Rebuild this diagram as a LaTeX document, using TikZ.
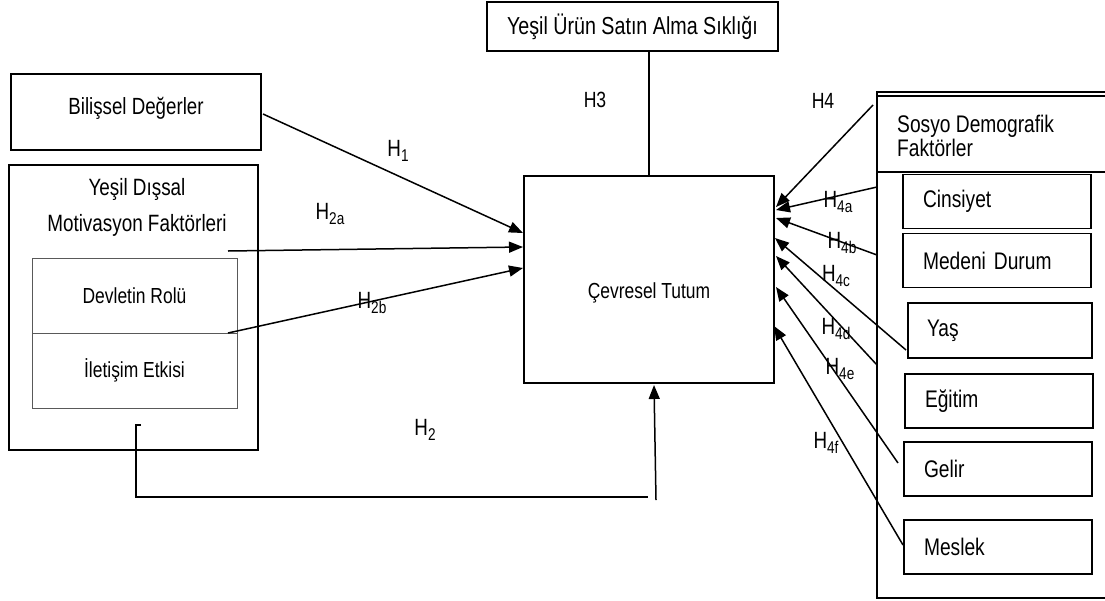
\documentclass[tikz,border=0pt]{standalone}
\usepackage{fontspec}
\setmainfont{Liberation Sans}[FakeStretch=0.8]
\usetikzlibrary{arrows.meta,calc}
\newcommand\hsub[2]{#1\raisebox{-0.4ex}{\fontsize{17}{17}\selectfont #2}}
\tikzset{
  thickbox/.style={draw, line width=2.4pt, inner sep=0pt},
  topbox/.style={draw, line width=1.5pt, inner sep=0pt},
  thinbox/.style={draw=black!65, line width=0.9pt, inner sep=0pt, minimum width=205pt, minimum height=75pt},
  rbox/.style={draw, line width=1.3pt, minimum height=54pt, align=left, inner xsep=20pt, inner ysep=0pt},
  arr/.style={line width=1.5pt, -{Triangle[length=14pt,width=11pt]}},
  plain/.style={line width=1.5pt},
  lbl/.style={font=\fontsize{23.5}{24}\selectfont, inner sep=0pt},
  lblb/.style={font=\fontsize{22}{24}\selectfont, inner sep=0pt},
  big/.style={font=\fontsize{24}{23}\selectfont},
  bil/.style={font=\fontsize{23.4}{23}\selectfont},
  mot/.style={font=\fontsize{23.6}{36}\selectfont},
  mid/.style={font=\fontsize{21.8}{21}\selectfont},
}
\begin{document}
\begin{tikzpicture}[x=1pt,y=-1pt]
\useasboundingbox (0,0) rectangle (1105,600);
\clip (0,0) rectangle (1105,600);
\fill[white] (0,0) rectangle (1105,600);

% top box
\node[topbox, minimum width=291pt, minimum height=49pt, font=\fontsize{24.6}{24}\selectfont] (top) at (632.5,26.5) {Ye\c{s}il Ürün Sat\i n Alma S\i kl\i \u{g}\i};

% central box
\node[thickbox, minimum width=250pt, minimum height=207pt] (cev) at (649,279.5) {};
\node[mid] (cevtxt) at (649,293) {Çevresel Tutum};

% Bilişsel
\node[thickbox, minimum width=250pt, minimum height=76pt, bil] (bil) at (136,112) {Bili\c{s}sel De\u{g}erler\rule[-12pt]{0pt}{0pt}};

% Yeşil Dışsal big box
\node[thickbox, minimum width=249pt, minimum height=285pt] (yes) at (133.5,307.5) {};
\node[mot, align=center] (yestxt) at (137,207) {Ye\c{s}il D\i\c{s}sal\\Motivasyon Faktörleri};
\node[thinbox, mid] (dev) at (134.5,295.5) {\raisebox{-8pt}{Devletin Rolü}};
\node[thinbox, mid] (ilt) at (134.5,370.5) {\raisebox{-8pt}{\.Ileti\c{s}im Etkisi}};

% right frame
\coordinate (fTL) at (877,92);
\coordinate (fBL) at (877,598);
\draw[line width=1.1pt] (1110,92) -- (fTL) -- (fBL) -- (1110,598);
\draw[line width=1.1pt] (877,96) -- (1110,96);
\draw[line width=1.1pt] (877,172) -- (1110,172);
\node[font=\fontsize{24}{24}\selectfont, align=left, anchor=west, inner sep=0pt] (sdf) at (897,136) {Sosyo Demografik\\Faktörler};

\node[rbox, minimum width=188pt, text width=148pt, big] (cin) at (997,201.5) {Cinsiyet};
\node[rbox, minimum width=188pt, text width=148pt, big] (med) at (997,260.5) {Medeni Durum};
\node[rbox, minimum width=184pt, text width=146pt, inner xsep=19pt, minimum height=55pt, big] (yas) at (1000,330.5) {Ya\c{s}};
\node[rbox, minimum width=188pt, text width=148pt, big] (egi) at (999,401) {E\u{g}itim};
\node[rbox, minimum width=188pt, text width=148pt, big] (gel) at (998,469) {Gelir};
\node[rbox, minimum width=188pt, text width=148pt, big] (mes) at (998,547) {Meslek};

% left arrows
\coordinate (s1) at (263,114);
\coordinate (s2a) at (228,251);
\coordinate (s2b) at (228,333);
\coordinate (t1) at (523,233);
\coordinate (t2a) at (523,247);
\coordinate (t2b) at (523,268);
\draw[arr] (s1) -- (t1);
\draw[arr] (s2a) -- (t2a);
\draw[arr] (s2b) -- (t2b);

% top connection
\draw[plain] (cev.north) -- (cev.north |- top.south);

% bottom connection
\coordinate (b0) at (141,425);
\coordinate (b1) at (136,425);
\coordinate (b2) at (136,497);
\coordinate (b3) at (648,497);
\draw[plain] (b0) -- (b1) -- (b2) -- (b3);
\coordinate (b4) at (656,500);
\coordinate (b5) at (654,385);
\draw[arr] (b4) -- (b5);

% right arrows
\coordinate (r4) at (873,105);
\coordinate (r4a) at (877,187);
\coordinate (r4b) at (877,255);
\coordinate (r4c) at (906,350);
\coordinate (r4d) at (877,365);
\coordinate (r4e) at (898,463);
\coordinate (r4f) at (903,545);
\coordinate (e4) at (776,207);
\coordinate (e4a) at (776,210);
\coordinate (e4b) at (776,218);
\coordinate (e4c) at (775,238);
\coordinate (e4d) at (776,256);
\coordinate (e4e) at (776,287);
\coordinate (e4f) at (774,326);
\draw[arr] (r4) -- (e4);
\draw[arr] (r4a) -- (e4a);
\draw[arr] (r4b) -- (e4b);
\draw[arr] (r4c) -- (e4c);
\draw[arr] (r4d) -- (e4d);
\draw[arr] (r4e) -- (e4e);
\draw[arr] (r4f) -- (e4f);

% labels
\node[lbl] (lh1) at (398,151) {\hsub{H}{1}};
\node[lbl] (lh2a) at (330,214) {\hsub{H}{2a}};
\node[lbl] (lh2b) at (372,303) {\hsub{H}{2b}};
\node[lbl] (lh2) at (425,430) {\hsub{H}{2}};
\node[lblb] (lh3) at (595,100) {H3};
\node[lblb] (lh4) at (823,101) {H4};
\node[lbl] (lh4a) at (838,202) {\hsub{H}{4a}};
\node[lbl] (lh4b) at (842,243) {\hsub{H}{4b}};
\node[lbl] (lh4c) at (836,276) {\hsub{H}{4c}};
\node[lbl] (lh4d) at (836,329) {\hsub{H}{4d}};
\node[lbl] (lh4e) at (840,369) {\hsub{H}{4e}};
\node[lbl] (lh4f) at (826,443) {\hsub{H}{4f}};
\end{tikzpicture}
\end{document}
